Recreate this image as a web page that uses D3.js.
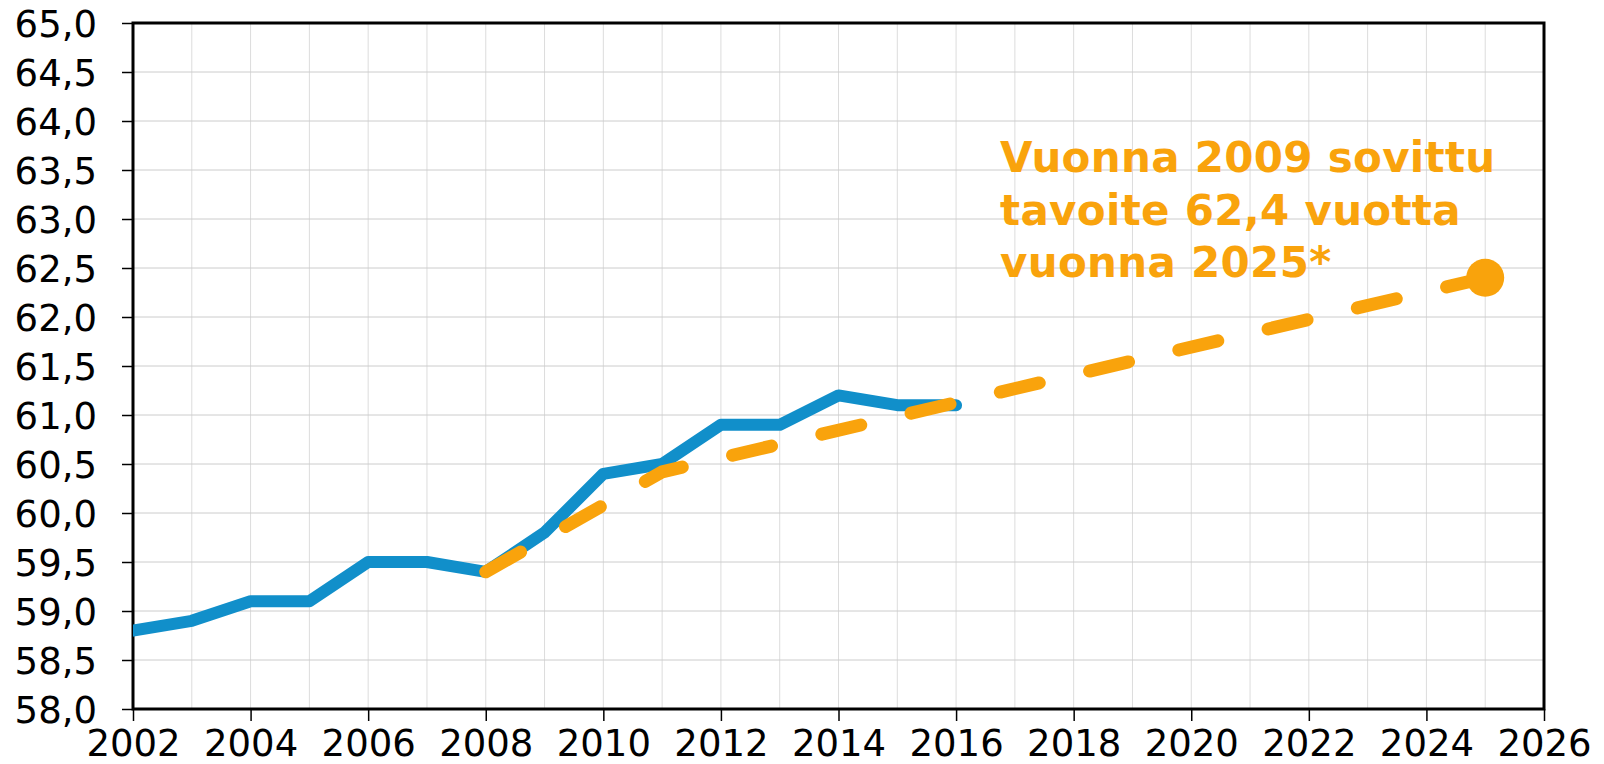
<!DOCTYPE html>
<html>
<head>
<meta charset="utf-8">
<title>Eläkkeellesiirtymisikä</title>
<script src="https://cdn.jsdelivr.net/npm/d3@7"></script>
<style>
  body { margin: 0; background: #fff; }
  svg { display: block; }
</style>
</head>
<body>
<div id="chart"></div>
<script>
// actual values (blue)
const years = [2002, 2003, 2004, 2005, 2006, 2007, 2008, 2009, 2010, 2011, 2012, 2013, 2014, 2015, 2016];
const actual = [58.8, 58.9, 59.1, 59.1, 59.5, 59.5, 59.4, 59.8, 60.4, 60.5, 60.9, 60.9, 61.2, 61.1, 61.1];

// target path (orange dashed)
const targetYears = [2008, 2011, 2025];
const targetValues = [59.4, 60.42, 62.4];

// axis ticks
const xTicks = [2002, 2004, 2006, 2008, 2010, 2012, 2014, 2016, 2018, 2020, 2022, 2024, 2026];
const yTicks = [58, 58.5, 59, 59.5, 60, 60.5, 61, 61.5, 62, 62.5, 63, 63.5, 64, 64.5, 65];

const noteLines = ["Vuonna 2009 sovittu", "tavoite 62,4 vuotta", "vuonna 2025*"];

const blue = "#118fca", orange = "#f9a30c";

var W = 1604, H = 764;
var margin = {top: 23, right: 60, bottom: 55, left: 133},
    width = W - margin.left - margin.right,
    height = H - margin.top - margin.bottom;

let svg = d3.select("#chart")
  .append("svg")
    .attr("width", W)
    .attr("height", H)
  .append("g")
    .attr("transform", "translate(" + margin.left + "," + margin.top + ")");

var x = d3.scaleLinear().domain([2002, 2026]).range([0, width]);
var y = d3.scaleLinear().domain([58, 65]).range([height, 0]);

svg.append("clipPath").attr("id", "plotclip")
  .append("rect").attr("width", width).attr("height", height);

// gridlines
svg.append("g")
  .selectAll("line")
  .data(d3.range(2003, 2026))
  .enter().append("line")
    .attr("x1", d => x(d)).attr("x2", d => x(d))
    .attr("y1", 0).attr("y2", height)
    .attr("stroke", "#dcdcdc").attr("stroke-width", 1);

svg.append("g")
  .selectAll("line")
  .data(yTicks.slice(1, -1))
  .enter().append("line")
    .attr("x1", 0).attr("x2", width)
    .attr("y1", d => y(d)).attr("y2", d => y(d))
    .attr("stroke", "#cccccc").attr("stroke-width", 1);

// axes
let xAxis = svg.append("g")
  .attr("transform", "translate(0," + height + ")")
  .call(d3.axisBottom(x).tickValues(xTicks).tickFormat(d3.format("d")).tickSize(12).tickPadding(9));

let yAxis = svg.append("g")
  .call(d3.axisLeft(y).tickValues(yTicks).tickFormat(d => d3.format(".1f")(d).replace(".", ",")).tickSize(11).tickPadding(25));

[xAxis, yAxis].forEach(a => {
  a.select(".domain").remove();
  a.selectAll("line").attr("stroke", "#000").attr("stroke-width", 1.5);
  a.selectAll("text")
    .attr("fill", "#000")
    .style("font-family", "'DejaVu Sans', Verdana, sans-serif")
    .style("font-size", "37px");
});
yAxis.selectAll("text").attr("dy", "0.36em");

// frame
svg.append("rect")
  .attr("width", width).attr("height", height)
  .attr("fill", "none").attr("stroke", "#000").attr("stroke-width", 3);

let plot = svg.append("g").attr("clip-path", "url(#plotclip)");

// blue line
var line = d3.line().x(d => x(d[0])).y(d => y(d[1]));

plot.append("path")
  .datum(years.map((d, i) => [d, actual[i]]))
  .attr("d", line)
  .attr("fill", "none")
  .attr("stroke", blue)
  .attr("stroke-width", 12)
  .attr("stroke-linejoin", "round")
  .attr("stroke-linecap", "round");

// orange dashed target
let target = targetYears.map((d, i) => [d, targetValues[i]]);
svg.append("path")
  .datum(target)
  .attr("d", line)
  .attr("fill", "none")
  .attr("stroke", orange)
  .attr("stroke-width", 13)
  .attr("stroke-dasharray", "40,51.7")
  .attr("stroke-linejoin", "round")
  .attr("stroke-linecap", "round");

let last = target[target.length - 1];
svg.append("circle")
  .attr("cx", x(last[0]))
  .attr("cy", y(last[1]))
  .attr("r", 19)
  .attr("fill", orange);

// annotation
svg.append("text")
  .attr("y", 149)
  .attr("fill", orange)
  .style("font-family", "'DejaVu Sans', Verdana, sans-serif")
  .style("font-size", "42px")
  .style("letter-spacing", "0.3px")
  .style("font-weight", "bold")
  .selectAll("tspan")
  .data(noteLines)
  .enter().append("tspan")
    .attr("x", x(2016) + 44)
    .attr("dy", (d, i) => i === 0 ? 0 : 52.5)
    .text(d => d);
</script>
</body>
</html>
